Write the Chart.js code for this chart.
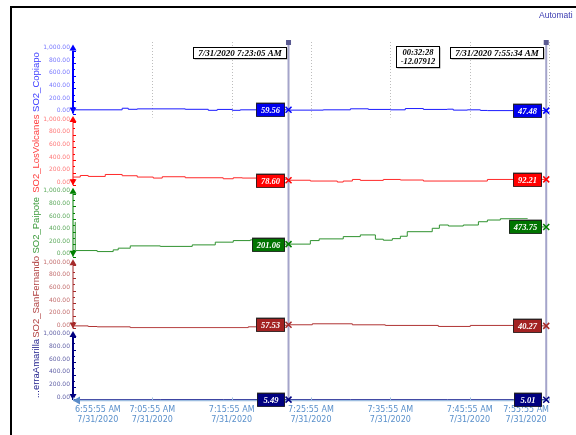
<!DOCTYPE html>
<html><head><meta charset="utf-8">
<script src="https://cdn.jsdelivr.net/npm/chart.js@4.4.1/dist/chart.umd.min.js"></script>
<style>html,body{margin:0;padding:0;background:#fff;overflow:hidden}canvas{display:block}</style>
</head><body>
<canvas id="c" width="576" height="435"></canvas>
<script>
// ---------- data ----------
const dateLabel = '7/31/2020';
const axisStart = '6:55:55';
const axisEnd = '7:55:55';
const tickTimes = ['6:55:55','7:05:55','7:15:55','7:25:55','7:35:55','7:45:55','7:55:55'];
const yTickValues = [0, 200, 400, 600, 800, 1000];
const cursorTimes = ['7:23:05', '7:55:34'];
const cursorDateLabels = ['7/31/2020 7:23:05 AM', '7/31/2020 7:55:34 AM'];
const deltaLabels = ['00:32:28', '-12.07912'];
const headerText = 'Automati';
const seriesNames = ['SO2_Copiapo', 'SO2_LosVolcanes', 'SO2_Paipote', 'SO2_SanFernando', '...erraAmarilla'];

const copiapoTimes = ['6:55:55','7:02:07','7:02:53','7:04:01','7:10:04','7:12:58','7:14:06','7:16:00','7:17:00','7:23:05','7:23:18','7:27:28','7:30:53','7:33:09','7:35:55','7:37:48','7:40:05','7:43:06','7:43:51','7:45:38','7:47:16','7:48:09','7:55:34'];
const copiapoValues = [60,85,68,75,68,52,66,52,60,59.56,55,60,76,66,60,80,66,70,55,60,50,47.48,47.48];

const losVolcanesTimes = ['6:55:55','6:56:50','6:57:50','6:59:59','7:02:07','7:04:01','7:06:02','7:07:10','7:10:04','7:14:51','7:16:07','7:17:15','7:19:09','7:23:05','7:25:50','7:29:14','7:29:59','7:31:08','7:32:08','7:35:02','7:37:11','7:40:05','7:48:09','7:51:26','7:55:34'];
const losVolcanesValues = [129,154,139,170,150,129,113,134,118,102,118,113,95,78.6,66,50,66,91,76,91,82,66,91,92.21,92.21];

const paipoteTimes = ['6:56:10','6:56:12','6:58:58','7:00:59','7:01:37','7:03:08','7:06:55','7:10:57','7:13:51','7:16:07','7:18:16','7:20:47','7:23:05','7:25:50','7:26:57','7:29:59','7:32:08','7:34:02','7:35:02','7:36:10','7:37:11','7:38:03','7:41:12','7:42:06','7:43:14','7:45:07','7:47:01','7:48:09','7:49:47','7:53:12','7:55:34'];
const paipoteValues = [550,99,83,110,137,173,165,189,232,257,268,201.06,201.06,257,284,320,347,279,263,288,326,398,452,504,488,504,556,583,603,473.75,473.75];

const sanFernandoTimes = ['6:55:55','6:57:50','6:58:58','7:03:08','7:18:00','7:19:09','7:23:05','7:26:05','7:31:08','7:35:17','7:41:58','7:46:00','7:51:26','7:55:34'];
const sanFernandoValues = [40,30,25,12,25,50,57.53,73,57,47,31,47,40.27,40.27];

const tierraTimes = ['6:55:55','7:06:55','7:14:51','7:23:05','7:30:53','7:43:06','7:51:26','7:55:34'];
const tierraValues = [5.2,6.1,5.8,5.49,5.6,5.3,5.01,5.01];

// ---------- styles ----------
const styles = [
  {line:'#1a1aff', axis:'#0000ff', axisW:2, tick:'#7a7aff', title:'#3c3cff', box:'#0000ee'},
  {line:'#ff2a2a', axis:'#ff0000', axisW:1, tick:'#ff7a7a', title:'#ff3c3c', box:'#ff0000'},
  {line:'#2f922f', axis:'#008000', axisW:1, tick:'#5eab5e', title:'#3a9a3a', box:'#007400'},
  {line:'#b03434', axis:'#a52a2a', axisW:1, tick:'#c47070', title:'#b04040', box:'#a32222'},
  {line:'#000080', axis:'#000080', axisW:2, tick:'#6464a8', title:'#1f1f8c', box:'#000080'}
];

const toSec = t => { const p = t.split(':').map(Number); return p[0]*3600 + p[1]*60 + p[2]; };
const fmtTime = sec => {
  const h = Math.floor(sec/3600), m = Math.floor((sec%3600)/60), s = Math.round(sec%60);
  const ap = h >= 12 ? 'PM' : 'AM'; const hh = ((h+11)%12)+1;
  return hh + ':' + String(m).padStart(2,'0') + ':' + String(s).padStart(2,'0') + ' ' + ap;
};
const fmtNum = v => v.toLocaleString('en-US', {minimumFractionDigits:2, maximumFractionDigits:2});

const seriesTimes = [copiapoTimes, losVolcanesTimes, paipoteTimes, sanFernandoTimes, tierraTimes];
const seriesValues = [copiapoValues, losVolcanesValues, paipoteValues, sanFernandoValues, tierraValues];

const datasets = seriesNames.map((n, i) => ({
  label: n,
  data: seriesTimes[i].map((t, k) => ({x: toSec(t), y: seriesValues[i][k]})),
  yAxisID: 'y' + i,
  stepped: true,
  borderColor: styles[i].line,
  borderWidth: 1,
  pointRadius: 0,
  fill: false
}));

const scales = {
  x: {
    type: 'linear', min: toSec(axisStart), max: toSec(axisEnd),
    afterBuildTicks: s => { s.ticks = tickTimes.map(t => ({value: toSec(t)})); },
    afterFit: s => { s.height = 35; },
    grid: {display: false, drawTicks: false},
    border: {display: false},
    ticks: {display: false}
  }
};
seriesNames.forEach((n, i) => {
  scales['y' + i] = {
    type: 'linear', position: 'left', stack: 'panels', stackWeight: 1, weight: 5 - i,
    min: 0, max: 1135,
    afterBuildTicks: s => { s.ticks = yTickValues.map(v => ({value: v})); },
    afterFit: s => { s.width = 73; },
    grid: {display: false, drawTicks: false},
    border: {display: false},
    ticks: {
      autoSkip: false, padding: 3, labelOffset: -3, color: styles[i].tick,
      font: {family: 'DejaVu Sans', size: 6},
      callback: v => fmtNum(v)
    }
  };
});

function valueAt(i, sec) {
  const ts = seriesTimes[i], vs = seriesValues[i];
  let v = vs[0];
  for (let k = 0; k < ts.length; k++) { if (toSec(ts[k]) <= sec) v = vs[k]; }
  return v;
}

const deco = {
  id: 'deco',
  beforeDraw(chart) {
    const ctx = chart.ctx;
    ctx.save();
    ctx.fillStyle = '#fff'; ctx.fillRect(0, 0, chart.width, chart.height);
    ctx.fillStyle = '#000';
    ctx.fillRect(10, 6, chart.width - 10, 2);
    ctx.fillRect(10, 6, 2, chart.height - 6);
    ctx.fillStyle = '#3a3ab0'; ctx.font = '8.5px "Liberation Sans"';
    ctx.textAlign = 'left'; ctx.textBaseline = 'middle';
    ctx.fillText(headerText, 539, 16);
    ctx.restore();
  },
  beforeDatasetsDraw(chart) {
    const ctx = chart.ctx, ca = chart.chartArea, xs = chart.scales.x;
    ctx.save();
    // dotted grid in top panel
    const y0top = chart.scales.y0.getPixelForValue(0);
    ctx.strokeStyle = '#bdbdbd'; ctx.lineWidth = 1; ctx.setLineDash([1, 2]);
    tickTimes.slice(1).forEach(t => {
      const x = Math.round(xs.getPixelForValue(toSec(t))) + 0.5;
      ctx.beginPath(); ctx.moveTo(x, ca.top); ctx.lineTo(x, y0top + 4); ctx.stroke();
    });
    ctx.setLineDash([]);
    // y axes
    const x = ca.left;
    seriesNames.forEach((n, i) => {
      const s = chart.scales['y' + i], st = styles[i];
      const yT = s.getPixelForValue(1000), yB = s.getPixelForValue(0);
      ctx.strokeStyle = st.axis; ctx.fillStyle = st.axis; ctx.lineWidth = st.axisW;
      ctx.beginPath(); ctx.moveTo(x, yT); ctx.lineTo(x, yB); ctx.stroke();
      ctx.lineWidth = 1;
      for (let v = 0; v <= 1000; v += 100) {
        const yy = Math.round(s.getPixelForValue(v)) + 0.5;
        const len = v % 200 === 0 ? 3 : 2;
        ctx.beginPath(); ctx.moveTo(x, yy); ctx.lineTo(x + len, yy); ctx.stroke();
      }
      ctx.beginPath(); ctx.moveTo(x, yT - 6); ctx.lineTo(x - 3.5, yT); ctx.lineTo(x + 3.5, yT); ctx.closePath(); ctx.fill();
      ctx.beginPath(); ctx.moveTo(x - 3.5, yB - 6); ctx.lineTo(x + 3.5, yB - 6); ctx.lineTo(x, yB); ctx.closePath(); ctx.fill();
      // title
      ctx.save();
      ctx.translate(36, s.getPixelForValue(500));
      ctx.rotate(-Math.PI / 2);
      ctx.font = '9.5px "Liberation Sans"'; ctx.fillStyle = st.title;
      ctx.textAlign = 'center'; ctx.textBaseline = 'middle';
      ctx.fillText(n, 0, 0);
      ctx.restore();
    });
    ctx.restore();
  },
  afterDatasetsDraw(chart) {
    const ctx = chart.ctx, ca = chart.chartArea, xs = chart.scales.x;
    ctx.save();
    // x axis
    const ya = Math.round(ca.bottom) + 0.5;
    ctx.strokeStyle = '#9dbde0'; ctx.lineWidth = 1.5;
    ctx.beginPath(); ctx.moveTo(ca.left, ya); ctx.lineTo(ca.right, ya); ctx.stroke();
    ctx.lineWidth = 1;
    tickTimes.forEach(t => {
      const x = Math.round(xs.getPixelForValue(toSec(t))) + 0.5;
      ctx.beginPath(); ctx.moveTo(x, ya - 3); ctx.lineTo(x, ya); ctx.stroke();
    });
    ctx.fillStyle = '#5a8cc8';
    ctx.beginPath(); ctx.moveTo(ca.left, ya); ctx.lineTo(ca.left + 7, ya - 4); ctx.lineTo(ca.left + 7, ya + 4); ctx.closePath(); ctx.fill();
    // x tick labels (two lines, kept inside the axis span)
    ctx.font = '8px "DejaVu Sans"'; ctx.fillStyle = '#5a90cb';
    ctx.textAlign = 'center'; ctx.textBaseline = 'middle';
    tickTimes.forEach(t => {
      const v = toSec(t);
      const l1 = fmtTime(v), l2 = dateLabel;
      const w = Math.max(ctx.measureText(l1).width, ctx.measureText(l2).width);
      let cx = xs.getPixelForValue(v);
      cx = Math.max(ca.left + 2 + w / 2, Math.min(ca.right - w / 2, cx));
      ctx.fillText(l1, cx, ya + 9);
      ctx.fillText(l2, cx, ya + 19);
    });

    // cursors
    const cxs = cursorTimes.map(t => xs.getPixelForValue(toSec(t)));
    cxs.forEach(cx => {
      ctx.strokeStyle = '#a4a4ca'; ctx.lineWidth = 2;
      ctx.beginPath(); ctx.moveTo(cx, ca.top); ctx.lineTo(cx, ca.bottom + 1); ctx.stroke();
      ctx.fillStyle = '#5a5a92'; ctx.fillRect(cx - 2.5, ca.top - 2, 5, 5);
    });

    // date boxes
    ctx.font = 'italic bold 9px "Liberation Serif"';
    ctx.textAlign = 'center'; ctx.textBaseline = 'middle';
    cxs.forEach((cx, k) => {
      const txt = cursorDateLabels[k];
      const w = Math.ceil(ctx.measureText(txt).width) + 9, h = 11;
      const bx = Math.round(cx - 3 - w) + 0.5, by = 47.5;
      ctx.fillStyle = '#9a9a9a'; ctx.fillRect(bx + 1, by + 1, w, h);
      ctx.fillStyle = '#fff'; ctx.fillRect(bx, by, w, h);
      ctx.strokeStyle = '#000'; ctx.lineWidth = 1; ctx.strokeRect(bx, by, w, h);
      ctx.fillStyle = '#000'; ctx.fillText(txt, bx + w / 2, by + h / 2 + 0.5);
    });
    // delta box
    ctx.font = 'italic bold 8.5px "Liberation Serif"';
    {
      const w = 43, h = 21;
      const bx = Math.round((cxs[0] + cxs[1]) / 2 - w / 2) + 0.5, by = 46.5;
      ctx.fillStyle = '#9a9a9a'; ctx.fillRect(bx + 1, by + 1, w, h);
      ctx.fillStyle = '#fff'; ctx.fillRect(bx, by, w, h);
      ctx.strokeStyle = '#000'; ctx.strokeRect(bx, by, w, h);
      ctx.fillStyle = '#000';
      ctx.fillText(deltaLabels[0], bx + w / 2, by + 6.5);
      ctx.fillText(deltaLabels[1], bx + w / 2, by + 15.5);
    }

    // value boxes + markers
    cxs.forEach((cx, k) => {
      const sec = toSec(cursorTimes[k]);
      seriesNames.forEach((n, i) => {
        const s = chart.scales['y' + i], st = styles[i];
        const v = valueAt(i, sec);
        const y = s.getPixelForValue(v);
        const txt = v.toFixed(2);
        const w = Math.max(27, Math.ceil(ctx.measureText(txt).width) + 8), h = 13;
        const bx = Math.round(cx - 5 - w) + 0.5, by = Math.round(y - h / 2) + 0.5;
        ctx.fillStyle = '#a8a8a8'; ctx.fillRect(bx - 0.5, by - 1.5, w + 1, h + 1);
        ctx.fillStyle = st.box; ctx.fillRect(bx, by, w, h);
        ctx.strokeStyle = 'rgba(0,0,0,0.7)'; ctx.lineWidth = 1; ctx.strokeRect(bx, by, w, h);
        ctx.fillStyle = '#fff'; ctx.fillText(txt, bx + w / 2, by + h / 2 + 0.5);
        ctx.strokeStyle = st.axis; ctx.lineWidth = 1.5;
        ctx.beginPath();
        ctx.moveTo(cx - 3, y - 3); ctx.lineTo(cx + 3, y + 3);
        ctx.moveTo(cx + 3, y - 3); ctx.lineTo(cx - 3, y + 3);
        ctx.stroke();
      });
    });
    ctx.restore();
  }
};

new Chart(document.getElementById('c'), {
  type: 'line',
  data: {datasets},
  options: {
    responsive: false, animation: false, devicePixelRatio: 1, events: [],
    layout: {padding: {top: 42, right: 27, bottom: 0, left: 0}},
    plugins: {legend: {display: false}, tooltip: {enabled: false}},
    scales
  },
  plugins: [deco]
});
</script>
</body></html>
